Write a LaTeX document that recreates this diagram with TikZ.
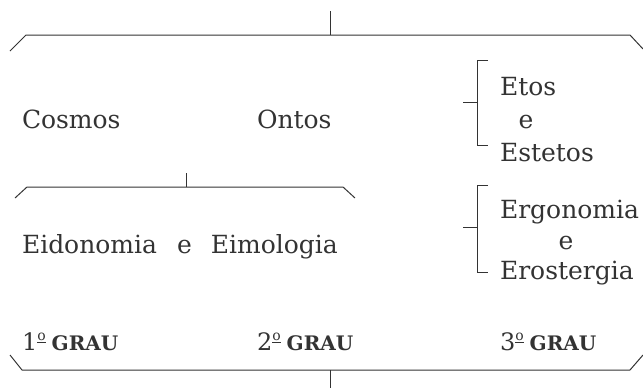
\documentclass[tikz,border=0pt]{standalone}
\usepackage{fontspec}
\setmainfont{DejaVu Serif}
\definecolor{ink}{HTML}{333333}
\tikzset{
  txt/.style={anchor=base west, inner sep=0pt, outer sep=0pt, text=ink, font=\fontsize{25}{30}\selectfont},
  ctr/.style={anchor=base, inner sep=0pt, outer sep=0pt, text=ink, font=\fontsize{25}{30}\selectfont},
  grau/.style={anchor=base west, inner sep=0pt, outer sep=0pt, text=ink, font=\fontsize{24}{28}\selectfont},
  brk/.style={draw=ink, line width=1pt},
}
\newcommand{\ordo}{\raisebox{0.4em}{\fontsize{14}{15}\selectfont\underline{o}}}
\newcommand{\grautxt}[1]{#1\ordo\hspace{6pt}{\fontsize{20}{22}\selectfont\bfseries GRAU}}
\begin{document}
\begin{tikzpicture}[x=1pt,y=-1pt]
\useasboundingbox (0,0) rectangle (643,388);
% top bracket
\coordinate (t1) at (10,51); \coordinate (t2) at (26,35);
\coordinate (t3) at (630,35); \coordinate (t4) at (643,49);
\coordinate (tt) at (330,11); \coordinate (tm) at (330,35);
\draw[brk] (t1) -- (t2) -- (t3) -- (t4);
\draw[brk] (tt) -- (tm);
% texts row 1
\node[txt] (cosmos) at (22,128) {Cosmos};
\node[txt] (ontos) at (257,128) {Ontos};
\node[txt] (etos) at (500,95) {Etos};
\node[ctr] (e1) at (526,128) {e};
\node[txt] (estetos) at (500,161) {Estetos};
% etos bracket
\coordinate (a1) at (488,60); \coordinate (a2) at (477,60);
\coordinate (a3) at (477,145); \coordinate (a4) at (488,145);
\coordinate (am) at (477,102); \coordinate (at) at (463,102);
\draw[brk] (a1) -- (a2) -- (a3) -- (a4);
\draw[brk] (at) -- (am);
% middle bracket
\coordinate (m1) at (15,198); \coordinate (m2) at (27,187);
\coordinate (m3) at (343,187); \coordinate (m4) at (355,198);
\coordinate (mt) at (186,173); \coordinate (mm) at (186,187);
\draw[brk] (m1) -- (m2) -- (m3) -- (m4);
\draw[brk] (mt) -- (mm);
\node[txt] (eido) at (22,253) {Eidonomia\hspace{20pt}e\hspace{19pt}Eimologia};
% ergonomia bracket
\coordinate (b1) at (488,185); \coordinate (b2) at (477,185);
\coordinate (b3) at (477,272); \coordinate (b4) at (488,272);
\coordinate (bm) at (477,227); \coordinate (bt) at (463,227);
\draw[brk] (b1) -- (b2) -- (b3) -- (b4);
\draw[brk] (bt) -- (bm);
\node[txt] (ergo) at (500,218) {Ergonomia};
\node[ctr] (e2) at (566,249) {e};
\node[txt] (eros) at (500,279) {Erostergia};
% grau row
\node[grau] (g1) at (22,350) {\grautxt{1}};
\node[grau] (g2) at (257,350) {\grautxt{2}};
\node[grau] (g3) at (500,350) {\grautxt{3}};
% bottom bracket
\coordinate (c1) at (10,355); \coordinate (c2) at (22,370);
\coordinate (c3) at (630,370); \coordinate (c4) at (643,355);
\coordinate (cm) at (330,370); \coordinate (ct) at (330,388);
\draw[brk] (c1) -- (c2) -- (c3) -- (c4);
\draw[brk] (cm) -- (ct);
\end{tikzpicture}
\end{document}
